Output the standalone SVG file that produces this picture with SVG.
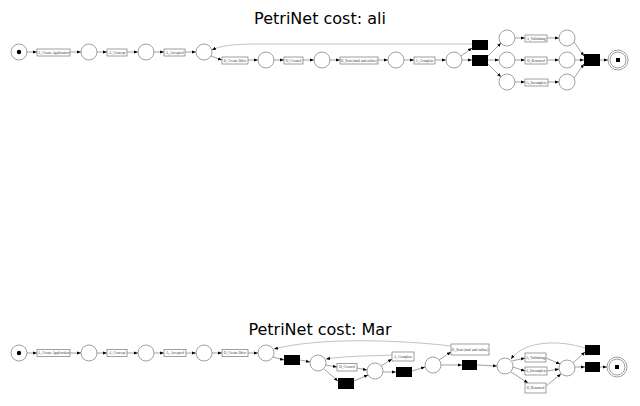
<svg xmlns="http://www.w3.org/2000/svg" width="640" height="406" viewBox="0 0 640 406">
<defs>
<marker id="ah" markerUnits="userSpaceOnUse" markerWidth="4" markerHeight="4" viewBox="0 0 4 4" refX="4" refY="2" orient="auto"><path d="M0,0.4 L4,2 L0,3.6 Z" fill="#000"/></marker>
<style>
.title{font-family:"DejaVu Sans",sans-serif;font-size:16px;fill:#000;text-anchor:middle}
.pl{fill:#fff;stroke:#777;stroke-width:0.7}
.bx{fill:#fff;stroke:#777;stroke-width:0.7}
.tr{fill:#000}
.lb{font-family:"Liberation Serif",serif;font-size:3.6px;fill:#333;text-anchor:middle;dominant-baseline:central}
.e{fill:none;stroke:#444;stroke-width:0.5;marker-end:url(#ah)}
.arc{fill:none;stroke:#999;stroke-width:0.6;marker-end:url(#ah)}
</style>
</defs>
<rect width="640" height="406" fill="#fff"/>
<text class="title" x="320" y="24">PetriNet cost: ali</text>
<text class="title" x="320" y="335">PetriNet cost: Mar</text>

<g id="connectors">
<!-- top -->
<path class="e" d="M27,52 L37,52"/>
<path class="e" d="M70,52 L81,52"/>
<path class="e" d="M97,52 L107,52"/>
<path class="e" d="M127,52 L138,52"/>
<path class="e" d="M154,52 L164,52"/>
<path class="e" d="M185,52 L196,52"/>
<path class="e" d="M211,56 L222,60"/>
<path class="e" d="M248,60 L258,60"/>
<path class="e" d="M274,60 L284,60"/>
<path class="e" d="M303,60 L314,60"/>
<path class="e" d="M330,60 L340,60"/>
<path class="e" d="M378,60 L388,60"/>
<path class="e" d="M404,60 L414,60"/>
<path class="e" d="M435,60 L446,60"/>
<path class="e" d="M461,56 L472,48"/>
<path class="e" d="M462,60 L472,60"/>
<path class="arc" d="M472,44 L260,44 C232,44 220,46 212,50"/>
<path class="e" d="M488,56 L501,43"/>
<path class="e" d="M488,60 L499,60"/>
<path class="e" d="M488,64 L501,77"/>
<path class="e" d="M515,38 L525,38"/>
<path class="e" d="M515,60 L525,60"/>
<path class="e" d="M515,82 L525,82"/>
<path class="e" d="M547,38 L559,38"/>
<path class="e" d="M547,60 L559,60"/>
<path class="e" d="M548,82 L559,82"/>
<path class="e" d="M574,42 L584,56"/>
<path class="e" d="M575,60 L584,60"/>
<path class="e" d="M574,78 L584,64"/>
<path class="e" d="M600,60 L608,60"/>
<!-- bottom -->
<path class="e" d="M27,353 L37,353"/>
<path class="e" d="M70,353 L81,353"/>
<path class="e" d="M97,353 L107,353"/>
<path class="e" d="M127,353 L138,353"/>
<path class="e" d="M154,353 L164,353"/>
<path class="e" d="M186,353 L196,353"/>
<path class="e" d="M212,353 L222,353"/>
<path class="e" d="M248,353 L258,353"/>
<path class="e" d="M273,357 L284,360"/>
<path class="e" d="M300,360 L310,362"/>
<path class="e" d="M326,365 L337,367"/>
<path class="e" d="M324,369 L338,381"/>
<path class="e" d="M357,368 L367,370"/>
<path class="e" d="M354,381 L368,375"/>
<path class="e" d="M381,366 L392,359"/>
<path class="e" d="M383,372 L396,372"/>
<path class="arc" d="M392,355 C370,356 345,356 326,359"/>
<path class="e" d="M412,371 L425,367"/>
<path class="e" d="M439,360 L451,352"/>
<path class="e" d="M441,365 L462,365"/>
<path class="arc" d="M451,346 C400,340 320,337 274,349"/>
<path class="e" d="M477,365 L497,366"/>
<path class="e" d="M512,361 L525,358"/>
<path class="e" d="M513,367 L525,371"/>
<path class="e" d="M511,372 L528,383"/>
<path class="e" d="M546,358 L560,364"/>
<path class="e" d="M547,371 L559,369"/>
<path class="e" d="M546,386 L561,374"/>
<path class="e" d="M573,363 L585,352"/>
<path class="e" d="M575,367 L585,367"/>
<path class="arc" d="M585,348 C560,340 525,340 511,359"/>
<path class="e" d="M600,367 L607,367"/>
</g>

<!-- top nodes -->
<g id="t_start"><circle class="pl" cx="19" cy="52" r="8"/><circle cx="19" cy="52" r="2.2" fill="#000"/></g>
<g id="t_a_create"><rect class="bx" x="37" y="49" width="33" height="7"/><text class="lb" x="53.5" y="52.5">A_Create Application</text></g>
<g id="t_p1"><circle class="pl" cx="89" cy="52" r="8"/></g>
<g id="t_a_concept"><rect class="bx" x="107" y="49" width="20" height="7"/><text class="lb" x="117" y="52.5">A_Concept</text></g>
<g id="t_p2"><circle class="pl" cx="146" cy="52" r="8"/></g>
<g id="t_a_accepted"><rect class="bx" x="164" y="49" width="21" height="7"/><text class="lb" x="174.5" y="52.5">A_Accepted</text></g>
<g id="t_p3"><circle class="pl" cx="204" cy="52" r="8"/></g>
<g id="t_o_create"><rect class="bx" x="222" y="57" width="26" height="7"/><text class="lb" x="235" y="60.5">O_Create Offer</text></g>
<g id="t_p4"><circle class="pl" cx="266" cy="60" r="8"/></g>
<g id="t_o_created"><rect class="bx" x="284" y="57" width="19" height="7"/><text class="lb" x="293.5" y="60.5">O_Created</text></g>
<g id="t_p5"><circle class="pl" cx="322" cy="60" r="8"/></g>
<g id="t_o_sent"><rect class="bx" x="340" y="57" width="38" height="7"/><text class="lb" x="359" y="60.5">O_Sent (mail and online)</text></g>
<g id="t_p6"><circle class="pl" cx="396" cy="60" r="8"/></g>
<g id="t_a_complete"><rect class="bx" x="414" y="57" width="21" height="7"/><text class="lb" x="424.5" y="60.5">A_Complete</text></g>
<g id="t_p7"><circle class="pl" cx="454" cy="60" r="8"/></g>
<g id="t_tau1"><rect class="tr" x="472" y="40" width="16" height="10"/></g>
<g id="t_tau2"><rect class="tr" x="472" y="55" width="16" height="11"/></g>
<g id="t_p8"><circle class="pl" cx="507" cy="38" r="8"/></g>
<g id="t_p9"><circle class="pl" cx="507" cy="60" r="8"/></g>
<g id="t_p10"><circle class="pl" cx="507" cy="82" r="8"/></g>
<g id="t_a_validating"><rect class="bx" x="525" y="35" width="22" height="7"/><text class="lb" x="536" y="38.5">A_Validating</text></g>
<g id="t_o_returned"><rect class="bx" x="525" y="57" width="22" height="7"/><text class="lb" x="536" y="60.5">O_Returned</text></g>
<g id="t_a_incomplete"><rect class="bx" x="525" y="79" width="23" height="7"/><text class="lb" x="536.5" y="82.5">A_Incomplete</text></g>
<g id="t_p11"><circle class="pl" cx="567" cy="38" r="8"/></g>
<g id="t_p12"><circle class="pl" cx="567" cy="60" r="8"/></g>
<g id="t_p13"><circle class="pl" cx="567" cy="82" r="8"/></g>
<g id="t_tau3"><rect class="tr" x="584" y="54" width="16" height="12"/></g>
<g id="t_end"><circle class="pl" cx="618" cy="60" r="10"/><circle class="pl" cx="618" cy="60" r="8"/><rect x="616" y="58" width="4" height="4" fill="#000"/></g>

<!-- bottom nodes -->
<g id="b_start"><circle class="pl" cx="19" cy="353" r="8"/><circle cx="19" cy="353" r="2.2" fill="#000"/></g>
<g id="b_a_create"><rect class="bx" x="37" y="349.5" width="33" height="7"/><text class="lb" x="53.5" y="353">A_Create Application</text></g>
<g id="b_p1"><circle class="pl" cx="89" cy="353" r="8"/></g>
<g id="b_a_concept"><rect class="bx" x="107" y="349.5" width="20" height="7"/><text class="lb" x="117" y="353">A_Concept</text></g>
<g id="b_p2"><circle class="pl" cx="146" cy="353" r="8"/></g>
<g id="b_a_accepted"><rect class="bx" x="164" y="349.5" width="22" height="7"/><text class="lb" x="175" y="353">A_Accepted</text></g>
<g id="b_p3"><circle class="pl" cx="204" cy="353" r="8"/></g>
<g id="b_o_create"><rect class="bx" x="222" y="349.5" width="26" height="7"/><text class="lb" x="235" y="353">O_Create Offer</text></g>
<g id="b_p4"><circle class="pl" cx="266" cy="353" r="8"/></g>
<g id="b_tau1"><rect class="tr" x="284" y="355" width="16" height="10"/></g>
<g id="b_p5"><circle class="pl" cx="318" cy="363" r="8"/></g>
<g id="b_o_created"><rect class="bx" x="337" y="363.5" width="20" height="7.5"/><text class="lb" x="347" y="367.2">O_Created</text></g>
<g id="b_tau2"><rect class="tr" x="338" y="378" width="16" height="11"/></g>
<g id="b_p6"><circle class="pl" cx="375" cy="371" r="8"/></g>
<g id="b_a_complete"><rect class="bx" x="392" y="352" width="22" height="9"/><text class="lb" x="403" y="356.5">A_Complete</text></g>
<g id="b_tau3"><rect class="tr" x="396" y="367" width="16" height="10"/></g>
<g id="b_p7"><circle class="pl" cx="433" cy="365" r="8"/></g>
<g id="b_o_sent"><rect class="bx" x="451" y="344" width="38" height="11"/><text class="lb" x="470" y="349.5">O_Sent (mail and online)</text></g>
<g id="b_tau4"><rect class="tr" x="462" y="360" width="15" height="10"/></g>
<g id="b_p8"><circle class="pl" cx="505" cy="366" r="8"/></g>
<g id="b_a_validating"><rect class="bx" x="525" y="353" width="21" height="9"/><text class="lb" x="535.5" y="357.5">A_Validating</text></g>
<g id="b_a_incomplete"><rect class="bx" x="525" y="367" width="22" height="8"/><text class="lb" x="536" y="371">A_Incomplete</text></g>
<g id="b_o_returned"><rect class="bx" x="525" y="383" width="21" height="10"/><text class="lb" x="535.5" y="388">O_Returned</text></g>
<g id="b_p9"><circle class="pl" cx="567" cy="368" r="8"/></g>
<g id="b_tau5"><rect class="tr" x="585" y="345" width="15" height="10"/></g>
<g id="b_tau6"><rect class="tr" x="585" y="362" width="15" height="10"/></g>
<g id="b_end"><circle class="pl" cx="617" cy="367" r="10"/><circle class="pl" cx="617" cy="367" r="8"/><rect x="615" y="365" width="4" height="4" fill="#000"/></g>
</svg>
